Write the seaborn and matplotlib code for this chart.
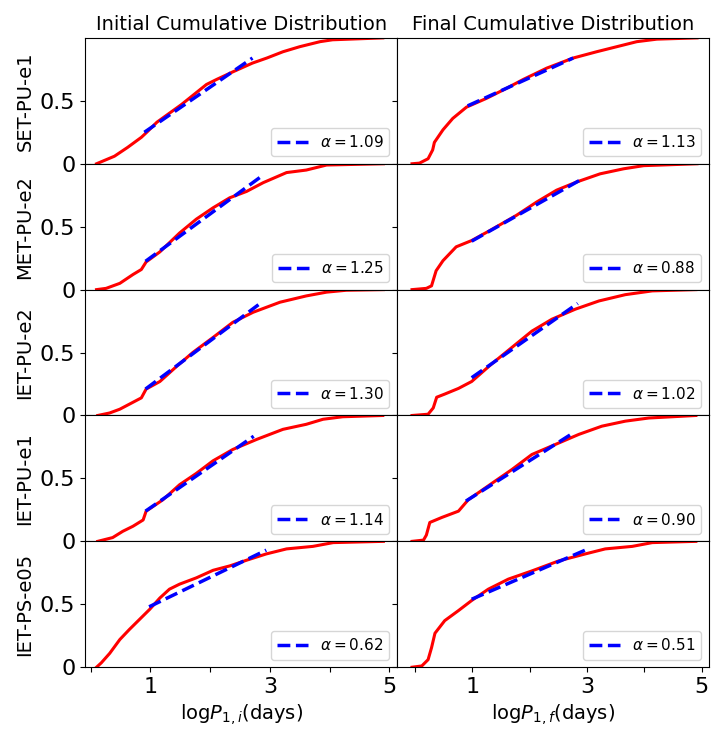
import matplotlib
matplotlib.use("Agg")
import matplotlib.pyplot as plt
import seaborn as sns

models = ["SET-PU-e1", "MET-PU-e2", "IET-PU-e2", "IET-PU-e1", "IET-PS-e05"]

# initial period distributions (log P, cumulative fraction)
init_x_set_pu_e1 = [0.10, 0.40, 0.62, 0.85, 0.94, 1.11, 1.52, 1.94, 2.11, 2.38, 2.71, 2.95, 3.22, 3.50, 3.84, 4.05, 4.89]
init_y_set_pu_e1 = [0.0, 0.06, 0.13, 0.21, 0.25, 0.33, 0.47, 0.63, 0.67, 0.73, 0.80, 0.84, 0.89, 0.93, 0.97, 0.985, 1.0]
init_x_met_pu_e2 = [0.10, 0.26, 0.49, 0.71, 0.85, 0.93, 1.16, 1.49, 1.77, 2.05, 2.33, 2.61, 2.89, 3.28, 3.61, 3.95, 4.90]
init_y_met_pu_e2 = [0.0, 0.01, 0.05, 0.12, 0.16, 0.22, 0.30, 0.45, 0.56, 0.65, 0.73, 0.78, 0.85, 0.93, 0.95, 0.99, 1.0]
init_x_iet_pu_e2 = [0.12, 0.32, 0.49, 0.65, 0.85, 0.93, 1.16, 1.44, 1.71, 2.05, 2.38, 2.72, 3.17, 3.61, 3.95, 4.28, 4.90]
init_y_iet_pu_e2 = [0.0, 0.02, 0.05, 0.09, 0.14, 0.21, 0.27, 0.39, 0.50, 0.62, 0.74, 0.82, 0.90, 0.95, 0.98, 0.995, 1.0]
init_x_iet_pu_e1 = [0.12, 0.37, 0.54, 0.71, 0.88, 0.93, 1.21, 1.49, 1.77, 2.05, 2.38, 2.78, 3.22, 3.61, 3.89, 4.22, 4.89]
init_y_iet_pu_e1 = [0.0, 0.03, 0.08, 0.12, 0.17, 0.24, 0.33, 0.45, 0.54, 0.64, 0.73, 0.81, 0.89, 0.93, 0.97, 0.99, 1.0]
init_x_iet_ps_e05 = [0.10, 0.18, 0.32, 0.49, 0.65, 0.82, 0.99, 1.16, 1.32, 1.49, 1.77, 2.05, 2.33, 2.61, 2.94, 3.28, 3.72, 4.06, 4.90]
init_y_iet_ps_e05 = [0.0, 0.035, 0.11, 0.22, 0.30, 0.38, 0.46, 0.55, 0.62, 0.66, 0.71, 0.77, 0.805, 0.85, 0.90, 0.94, 0.96, 0.99, 1.0]

# final period distributions
final_x_set_pu_e1 = [-0.05, 0.08, 0.23, 0.31, 0.34, 0.49, 0.66, 0.90, 1.25, 1.60, 1.89, 2.30, 2.76, 3.17, 3.52, 3.87, 4.22, 4.92]
final_y_set_pu_e1 = [0.0, 0.005, 0.04, 0.11, 0.17, 0.27, 0.36, 0.45, 0.52, 0.60, 0.67, 0.76, 0.84, 0.89, 0.93, 0.97, 0.99, 1.0]
final_x_met_pu_e2 = [-0.05, 0.20, 0.29, 0.37, 0.49, 0.72, 0.99, 1.31, 1.77, 2.12, 2.47, 2.82, 3.23, 3.64, 3.99, 4.92]
final_y_met_pu_e2 = [0.0, 0.01, 0.03, 0.15, 0.23, 0.34, 0.39, 0.47, 0.59, 0.695, 0.79, 0.855, 0.92, 0.96, 0.985, 1.0]
final_x_iet_pu_e2 = [-0.05, 0.23, 0.32, 0.38, 0.52, 0.76, 0.99, 1.34, 1.69, 2.04, 2.39, 2.80, 3.21, 3.67, 4.14, 4.90]
final_y_iet_pu_e2 = [0.0, 0.01, 0.06, 0.145, 0.17, 0.215, 0.27, 0.41, 0.54, 0.67, 0.765, 0.845, 0.91, 0.96, 0.99, 1.0]
final_x_iet_pu_e1 = [-0.05, 0.15, 0.20, 0.26, 0.47, 0.76, 0.93, 1.34, 1.69, 2.04, 2.45, 2.86, 3.26, 3.67, 4.08, 4.90]
final_y_iet_pu_e1 = [0.0, 0.01, 0.05, 0.15, 0.19, 0.24, 0.33, 0.46, 0.57, 0.69, 0.77, 0.85, 0.915, 0.955, 0.98, 1.0]
final_x_iet_ps_e05 = [-0.05, 0.12, 0.23, 0.29, 0.35, 0.52, 0.76, 0.99, 1.28, 1.63, 2.04, 2.51, 2.97, 3.32, 3.79, 4.14, 4.90]
final_y_iet_ps_e05 = [0.0, 0.01, 0.06, 0.155, 0.27, 0.37, 0.45, 0.53, 0.62, 0.70, 0.765, 0.845, 0.90, 0.94, 0.96, 0.99, 1.0]

# power-law fits: slopes and fitted segment ends (x0, x1, y0, y1)
init_alpha = [1.09, 1.25, 1.30, 1.14, 0.62]
final_alpha = [1.13, 0.88, 1.02, 0.90, 0.51]
init_fit_x0 = [0.90, 0.92, 0.92, 0.92, 0.98]
init_fit_x1 = [2.71, 2.83, 2.81, 2.73, 2.94]
init_fit_y0 = [0.25, 0.225, 0.21, 0.24, 0.48]
init_fit_y1 = [0.84, 0.89, 0.88, 0.835, 0.93]
final_fit_x0 = [0.92, 0.99, 0.99, 0.89, 0.99]
final_fit_x1 = [2.76, 2.88, 2.84, 2.74, 2.97]
final_fit_y0 = [0.46, 0.385, 0.30, 0.32, 0.54]
final_fit_y1 = [0.84, 0.87, 0.89, 0.855, 0.93]

init_curves = [(init_x_set_pu_e1, init_y_set_pu_e1), (init_x_met_pu_e2, init_y_met_pu_e2),
               (init_x_iet_pu_e2, init_y_iet_pu_e2), (init_x_iet_pu_e1, init_y_iet_pu_e1),
               (init_x_iet_ps_e05, init_y_iet_ps_e05)]
final_curves = [(final_x_set_pu_e1, final_y_set_pu_e1), (final_x_met_pu_e2, final_y_met_pu_e2),
                (final_x_iet_pu_e2, final_y_iet_pu_e2), (final_x_iet_pu_e1, final_y_iet_pu_e1),
                (final_x_iet_ps_e05, final_y_iet_ps_e05)]

fig, axes = plt.subplots(5, 2, figsize=(7.28, 7.43), dpi=100)
fig.subplots_adjust(left=0.117, right=0.974, top=0.949, bottom=0.102, hspace=0, wspace=0)

for i in range(5):
    for j in range(2):
        ax = axes[i, j]
        if j == 0:
            cx, cy = init_curves[i]
            fx = [init_fit_x0[i], init_fit_x1[i]]
            fy = [init_fit_y0[i], init_fit_y1[i]]
            a = init_alpha[i]
            ax.set_xlim(-0.09, 5.13)
        else:
            cx, cy = final_curves[i]
            fx = [final_fit_x0[i], final_fit_x1[i]]
            fy = [final_fit_y0[i], final_fit_y1[i]]
            a = final_alpha[i]
            ax.set_xlim(-0.31, 5.13)
        sns.lineplot(x=cx, y=cy, ax=ax, color="red", lw=2.2, sort=False, estimator=None)
        sns.lineplot(x=fx, y=fy, ax=ax, color="blue", lw=2.5, linestyle="--",
                     label=r"$\alpha=%.2f$" % a, sort=False, estimator=None)
        ax.legend(loc="lower right", fontsize=11)
        ax.set_ylim(0, 1)
        ax.set_yticks([0, 0.5])
        ax.set_xticks([0, 1, 2, 3, 4, 5])
        if j == 0:
            ax.set_yticklabels(["0", "0.5"], fontsize=16)
            ax.set_ylabel(models[i], fontsize=14)
        else:
            ax.set_yticklabels([])
        if i == 4:
            ax.set_xticklabels(["", "1", "", "3", "", "5"], fontsize=16)
        else:
            ax.set_xticklabels([])
            ax.tick_params(axis="x", length=0)

axes[0, 0].set_title("Initial Cumulative Distribution", fontsize=14)
axes[0, 1].set_title("Final Cumulative Distribution", fontsize=14)
axes[4, 0].set_xlabel(r"$\mathrm{log}P_{1,i}$(days)", fontsize=14)
axes[4, 1].set_xlabel(r"$\mathrm{log}P_{1,f}$(days)", fontsize=14)

fig.savefig("out.png", dpi=100)
